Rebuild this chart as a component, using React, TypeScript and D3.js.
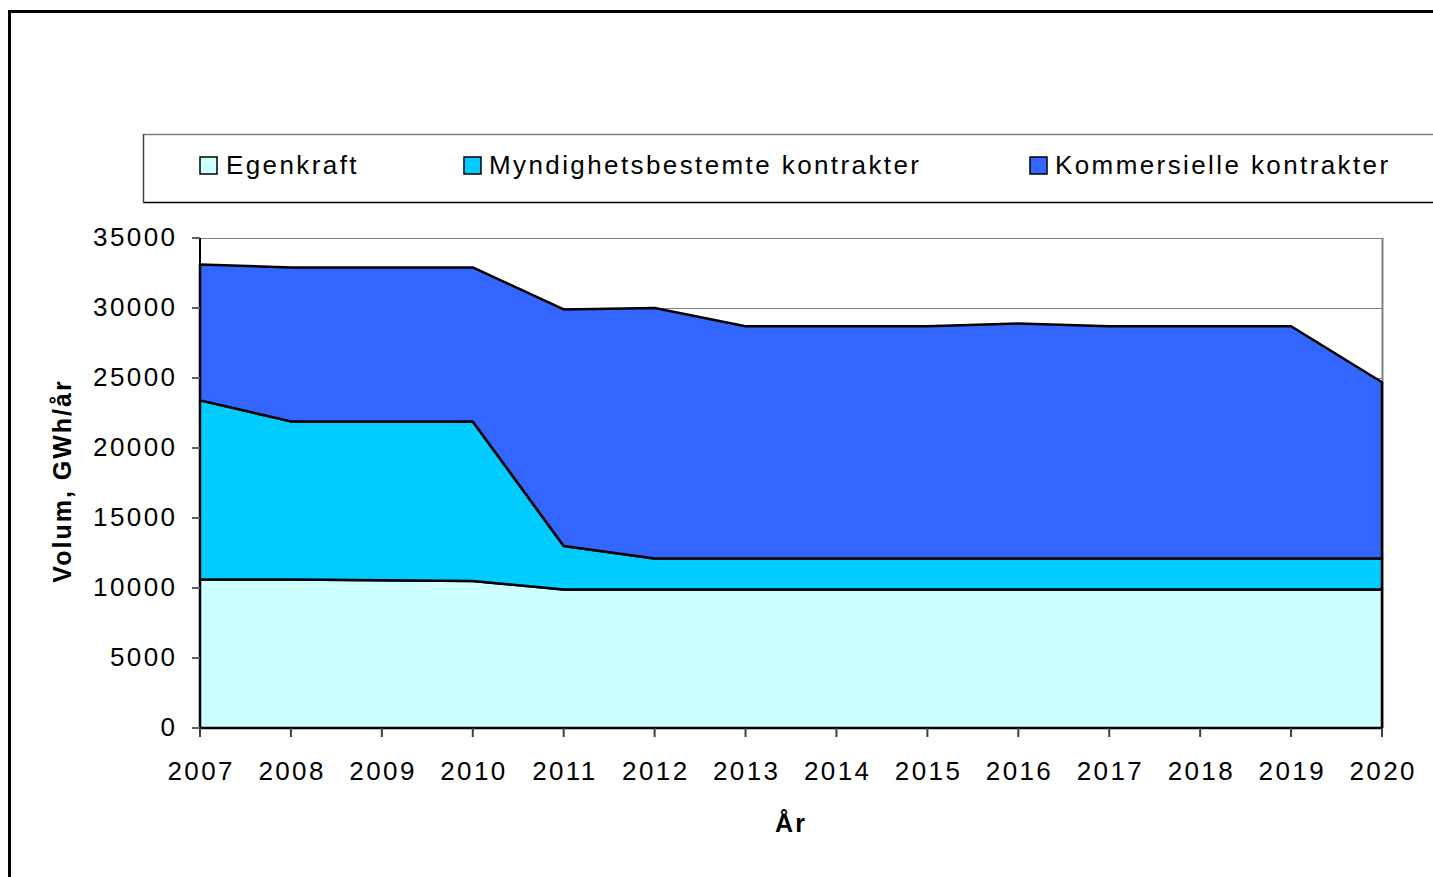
import { useEffect, useRef } from "react";
import * as d3 from "d3";

const years = [2007, 2008, 2009, 2010, 2011, 2012, 2013, 2014, 2015, 2016, 2017, 2018, 2019, 2020];
const egenkraft = [10600, 10600, 10550, 10500, 9900, 9900, 9900, 9900, 9900, 9900, 9900, 9900, 9900, 9900];
const myndighets = [12800, 11300, 11350, 11400, 3100, 2200, 2200, 2200, 2200, 2200, 2200, 2200, 2200, 2200];
const kommersielle = [9700, 11000, 11000, 11000, 16900, 17900, 16600, 16600, 16600, 16800, 16600, 16600, 16600, 12600];
const seriesNames = ["Egenkraft", "Myndighetsbestemte kontrakter", "Kommersielle kontrakter"];
const seriesColors = ["#CCFFFF", "#00CCFF", "#3366FF"];
const yTicks = [0, 5000, 10000, 15000, 20000, 25000, 30000, 35000];

const W = 1433;
const H = 877;
const font = "Arial, 'Liberation Sans', sans-serif";
const ls = 2.4; // Excel renders text wider than the browser does

export default function App() {
  const ref = useRef<SVGSVGElement | null>(null);

  useEffect(() => {
    const svg = d3.select(ref.current);
    svg.selectAll("*").remove();

    const left = 200, right = 1382, top = 238, bottom = 728;
    const x = d3.scaleLinear().domain([2007, 2020]).range([left, right]);
    const y = d3.scaleLinear().domain([0, 35000]).range([bottom, top]);

    // outer frame
    svg.append("rect")
      .attr("x", 9.5).attr("y", 11.5)
      .attr("width", W + 20).attr("height", H + 20)
      .attr("fill", "white").attr("stroke", "black").attr("stroke-width", 3);

    // legend box
    const lg = svg.append("g");
    lg.append("line").attr("x1", 143.5).attr("x2", W + 5).attr("y1", 134.5).attr("y2", 134.5)
      .attr("stroke", "#808080").attr("stroke-width", 1.5);
    lg.append("line").attr("x1", 143.5).attr("x2", W + 5).attr("y1", 202.5).attr("y2", 202.5)
      .attr("stroke", "black").attr("stroke-width", 1.5);
    lg.append("line").attr("x1", 143.5).attr("x2", 143.5).attr("y1", 134).attr("y2", 203)
      .attr("stroke", "#404040").attr("stroke-width", 1.5);
    const legX = [200, 464, 1030];
    const textX = [226, 489, 1055];
    seriesNames.forEach((name, i) => {
      lg.append("rect").attr("x", legX[i]).attr("y", 157).attr("width", 17).attr("height", 17)
        .attr("fill", seriesColors[i]).attr("stroke", "black").attr("stroke-width", 1.5);
      lg.append("text").attr("x", textX[i]).attr("y", 174)
        .attr("font-family", font).attr("font-size", 26).attr("letter-spacing", ls).attr("fill", "black")
        .text(name);
    });

    // gridlines
    svg.append("g").selectAll("line").data(yTicks.filter(t => t > 0)).join("line")
      .attr("x1", left).attr("x2", right)
      .attr("y1", d => y(d) + 0.5).attr("y2", d => y(d) + 0.5)
      .attr("stroke", "#808080").attr("stroke-width", 1);
    svg.append("line").attr("x1", right + 0.5).attr("x2", right + 0.5).attr("y1", top).attr("y2", bottom)
      .attr("stroke", "#808080").attr("stroke-width", 2);

    // stacked areas
    const rows = years.map((yr, i) => ({
      year: yr,
      Egenkraft: egenkraft[i],
      "Myndighetsbestemte kontrakter": myndighets[i],
      "Kommersielle kontrakter": kommersielle[i],
    }));
    const stacked = d3.stack<any>().keys(seriesNames)(rows);
    const area = d3.area<any>()
      .x(d => x(d.data.year))
      .y0(d => y(d[0]))
      .y1(d => y(d[1]));
    svg.append("g").selectAll("path").data(stacked).join("path")
      .attr("d", area)
      .attr("fill", (_, i) => seriesColors[i])
      .attr("stroke", "black").attr("stroke-width", 2.5).attr("stroke-linejoin", "round");

    // axes
    svg.append("line").attr("x1", left).attr("x2", left).attr("y1", top).attr("y2", bottom + 8)
      .attr("stroke", "black").attr("stroke-width", 2);
    svg.append("line").attr("x1", left - 8).attr("x2", right).attr("y1", bottom).attr("y2", bottom)
      .attr("stroke", "black").attr("stroke-width", 2);

    const yAxis = svg.append("g");
    yAxis.selectAll("line").data(yTicks).join("line")
      .attr("x1", left - 8).attr("x2", left)
      .attr("y1", d => y(d)).attr("y2", d => y(d))
      .attr("stroke", "#606060").attr("stroke-width", 2);
    yAxis.selectAll("text").data(yTicks).join("text")
      .attr("x", 175 + ls).attr("y", d => y(d) + 8)
      .attr("text-anchor", "end")
      .attr("font-family", font).attr("font-size", 26).attr("letter-spacing", ls).attr("fill", "black")
      .text(d => String(d));

    const xAxis = svg.append("g");
    xAxis.selectAll("line").data(years).join("line")
      .attr("x1", d => x(d)).attr("x2", d => x(d))
      .attr("y1", bottom).attr("y2", bottom + 9)
      .attr("stroke", "#404040").attr("stroke-width", 2);
    xAxis.selectAll("text").data(years).join("text")
      .attr("x", d => x(d) + ls / 2).attr("y", 780)
      .attr("text-anchor", "middle")
      .attr("font-family", font).attr("font-size", 26).attr("letter-spacing", ls).attr("fill", "black")
      .text(d => String(d));

    // axis titles
    svg.append("text").attr("x", 790 + 1).attr("y", 832)
      .attr("text-anchor", "middle")
      .attr("font-family", font).attr("font-size", 25).attr("font-weight", "bold").attr("letter-spacing", 2)
      .text("År");
    svg.append("text")
      .attr("transform", `translate(71,481) rotate(-90)`)
      .attr("text-anchor", "middle")
      .attr("font-family", font).attr("font-size", 25).attr("font-weight", "bold").attr("letter-spacing", 2)
      .text("Volum, GWh/år");
  }, []);

  return (
    <svg
      ref={ref}
      width={W}
      height={H}
      style={{ position: "absolute", left: 0, top: 0, background: "white" }}
    />
  );
}
